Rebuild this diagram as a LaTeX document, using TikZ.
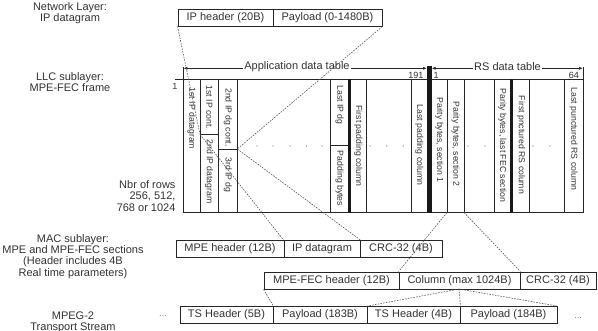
\documentclass[tikz,border=0pt]{standalone}
\usepackage{fontspec}
\setmainfont{Liberation Sans}
\usetikzlibrary{arrows.meta}
\begin{document}
\begin{tikzpicture}[x=1pt,y=-1pt,
  txt/.style={text=black!80, font=\fontsize{11}{11.3}\selectfont},
  box/.style={draw=black!85, line width=0.9pt, inner sep=0pt, minimum height=17pt, txt},
  vlab/.style={rotate=-90, inner sep=0pt, text=black!80, font=\fontsize{8.7}{9}\selectfont},
  num/.style={inner sep=0.5pt, text=black!80, font=\fontsize{9}{10}\selectfont},
  fr/.style={draw=black!85, line width=0.8pt},
  link/.style={draw=black!70, line width=0.55pt, dash pattern=on 1.6pt off 1.2pt},
  dimarrow/.style={draw=black!85, line width=0.7pt, {Latex[length=4pt,width=3pt]}-{Latex[length=4pt,width=3pt]}},
]
\useasboundingbox[fill=white] (0,0) rectangle (598,330);

% left labels
\node[txt, align=center] (netl) at (70,13.5) {Network Layer:\\IP datagram};
\node[txt, align=center] (llcl) at (70,82) {LLC sublayer:\\MPE-FEC frame};
\node[txt, align=right, anchor=east] (rowsl) at (179,196) {Nbr of rows\\256, 512,\\768 or 1024};
\node[txt, align=center] (macl) at (73,256.5) {MAC sublayer:\\MPE and MPE-FEC sections\\(Header includes 4B\\Real time parameters)};
\node[txt, align=center] (mpegl) at (73,322) {MPEG-2\\Transport Stream};

% IP datagram
\node[box, minimum width=95pt] (iph) at (225.5,17.5) {IP header (20B)};
\node[box, minimum width=109pt] (ipp) at (327.5,17.5) {Payload (0-1480B)};

% frame
\draw[fr] (175,79.3) -- (583,79.3);
\draw[fr] (183.3,67) -- (183.3,212.5) -- (583,212.5) -- (583,67);
\foreach \xx in {200,218.3,237.3,330.7,366,411.7,447,464,494.3,529,564.3}
  \draw[fr] (\xx,79.3) -- (\xx,212.5);
\draw[fr] (200,134.3) -- (218.3,134.3);
\draw[fr] (218.3,149) -- (237.3,149);
\draw[fr] (330.7,145.7) -- (349.3,145.7);
\draw[draw=black!90, line width=2.8pt] (349.3,79.3) -- (349.3,212.5);
\draw[draw=black!90, line width=2.8pt] (511.7,79.3) -- (511.7,212.5);
\draw[draw=black!90, line width=4.5pt] (429.3,65.5) -- (429.3,212.5);

% dimension arrows
\coordinate (aL) at (183.3,68.3);
\coordinate (aR) at (427,68.3);
\coordinate (rL) at (431.6,68.3);
\coordinate (rR) at (583,68.3);
\draw[dimarrow] (aL) -- (aR);
\draw[dimarrow] (rL) -- (rR);
\node[txt, fill=white, inner sep=1pt] (appt) at (297,67) {Application data table};
\node[txt, fill=white, inner sep=1pt] (rst) at (507.5,67) {RS data table};

% column numbers
\node[num, anchor=east] (n1) at (178,86.5) {1};
\node[num, anchor=south east] (n191) at (424,79.3) {191};
\node[num, anchor=south west] (n1b) at (433,79.3) {1};
\node[num, anchor=south east] (n64) at (579.5,79.3) {64};

% column labels
\node[vlab] (c1) at (191.7,118.5) {1st IP datagram};
\node[vlab] (c2a) at (209.2,107.5) {1st IP cont.};
\node[vlab] (c2b) at (209.2,171.5) {2nd IP datagram};
\node[vlab] (c3a) at (227.8,117.5) {2nd IP dg cont.};
\node[vlab] (c3b) at (227.8,175) {3rd IP dg};
\node[vlab] (c4a) at (339.6,105) {Last IP dg};
\node[vlab] (c4b) at (339.6,178.5) {Padding bytes};
\node[vlab] (c5) at (358.3,146) {First padding column};
\node[vlab] (c6) at (419.4,145) {Last padding column};
\node[vlab] (c7) at (439.3,140) {Parity bytes, section 1};
\node[vlab] (c8) at (455.5,144) {Parity bytes, section 2};
\node[vlab] (c9) at (502.3,145.5) {Parity bytes, last FEC section};
\node[vlab] (c10) at (521,145) {First pnctured RS column};
\node[vlab] (c11) at (573.7,139) {Last punctured RS column};

% dots
\foreach \xx in {257,273,290,306.5,322,370,386.7,403.3,468,485,533,550}
  \fill[black!55] (\xx,146) circle (0.6pt);

% MPE section
\node[box, minimum width=108pt] (mpeh) at (230,249) {MPE header (12B)};
\node[box, minimum width=76pt] (mpeip) at (322,249) {IP datagram};
\node[box, minimum width=82pt] (mpecrc) at (401,249) {CRC-32 (4B)};

% MPE-FEC section
\node[box, minimum width=135pt] (fech) at (331.5,280.5) {MPE-FEC header (12B)};
\node[box, minimum width=121pt] (fecc) at (459.5,280.5) {Column (max 1024B)};
\node[box, minimum width=76pt] (feccrc) at (558,280.5) {CRC-32 (4B)};

% TS packets
\node[box, minimum width=93pt] (ts1) at (226.5,315) {TS Header (5B)};
\node[box, minimum width=94pt] (pl1) at (320,315) {Payload (183B)};
\node[box, minimum width=93pt] (ts2) at (413.5,315) {TS Header (4B)};
\node[box, minimum width=97pt] (pl2) at (508.5,315) {Payload (184B)};
\node[num, text=black!50] (dl) at (163,316) {...};
\node[num, text=black!50] (dr) at (578,318) {...};

% links
\coordinate (j1) at (200,134.3);
\coordinate (j2) at (237.3,149);
\coordinate (p2a) at (447,212.5);
\coordinate (p2b) at (464,212.5);
\coordinate (cpt) at (459,289);
\draw[link] (iph.south west) -- (j1);
\draw[link] (ipp.south east) -- (j2);
\draw[link] (j1) -- (mpeip.north west);
\draw[link] (j2) -- (mpeip.north east);
\draw[link] (p2a) -- (fecc.north west);
\draw[link] (p2b) -- (fecc.north east);
\draw[link] (fech.south west) -- (ts1.north east);
\draw[link] (cpt) -- (pl1.north east);
\draw[link] (cpt) -- (ts2.north east);
\draw[link] (cpt) -- (pl2.north east);
\end{tikzpicture}
\end{document}
